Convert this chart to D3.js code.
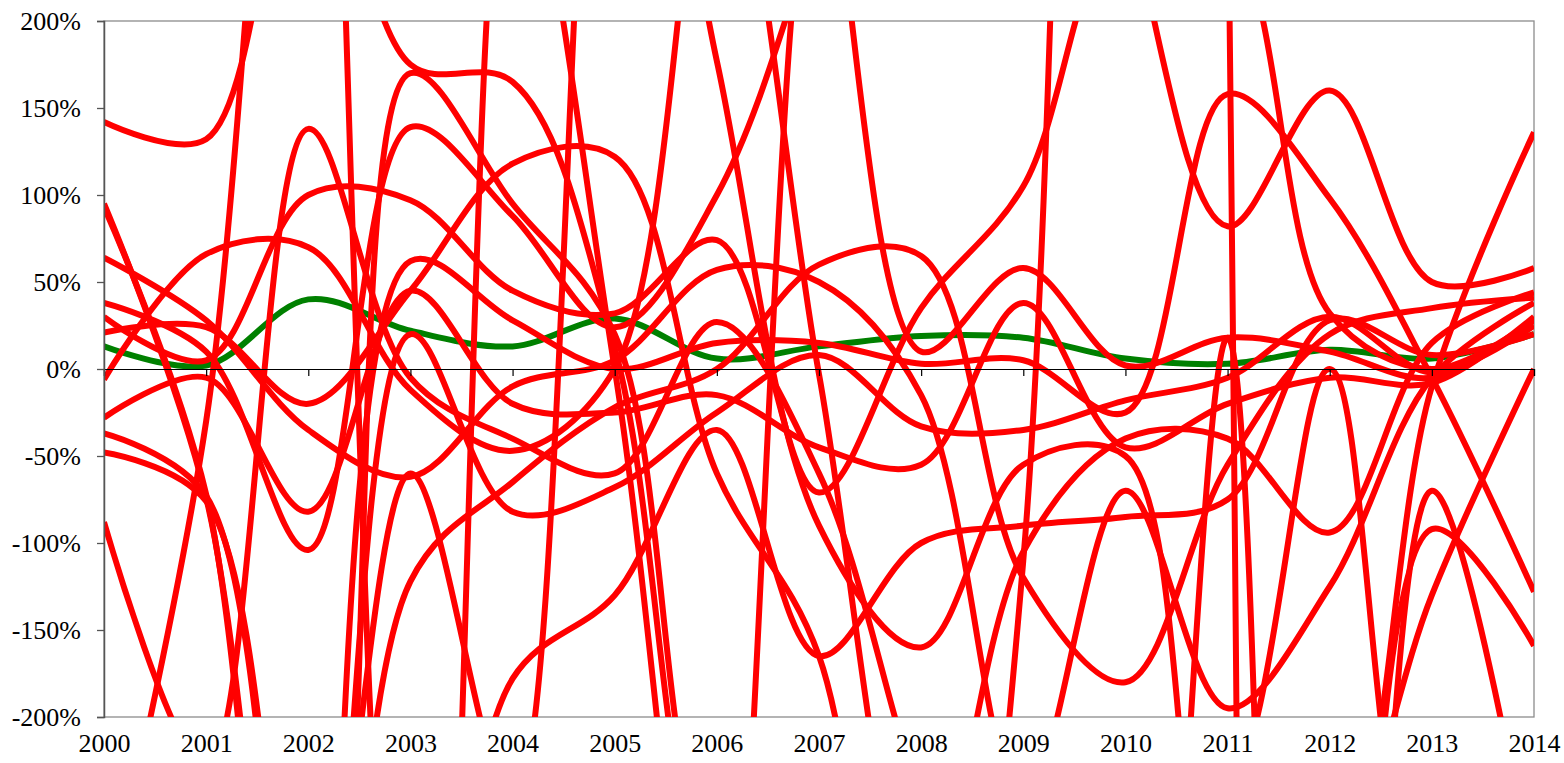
<!DOCTYPE html>
<html><head><meta charset="utf-8">
<script src="https://cdn.jsdelivr.net/npm/d3@7"></script>
<style>body{margin:0;background:#fff}text{font-family:"Liberation Serif","Times New Roman",serif}</style>
</head><body>
<svg id="c" width="1564" height="763"></svg>
<script>
const years = [2000,2001,2002,2003,2004,2005,2006,2007,2008,2009,2010,2011,2012,2013,2014];
const yTickValues = [-200,-150,-100,-50,0,50,100,150,200];

// green series (percent)
const greenSeries = [13, 2, 40, 22, 13, 29, 6, 13, 19, 18, 6, 3, 11, 6, 20];

// red series (percent)
const s01 = [142, 132, 330, 175, 165, 12, -330, -400, -300, -250, -600, 18, -2500, -92, -159];
const s02 = [-320, -30, 560, -420, -178, -130, -35, -165, -100, -90, -85, -75, 28, 8, 20];
const s03 = [95, -74, -480, 62, 28, 0, 15, 15, 3, 5, -25, 158, 98, -5, -128];
const s04 = [93, -72, -560, -122, -65, -22, 0, 60, 65, -120, -180, -55, 20, 35, 41];
const s05 = [64, 28, -35, -62, -10, 5, 57, 50, -15, -250, -70, -195, -125, -5, 38];
const s06 = [38, 10, -104, 139, 88, 24, 100, 260, 450, 500, 270, 82, 160, 50, 58];
const s07 = [30, 5, 100, 97, 45, 32, 74, -71, 35, 105, 260, 250, 32, 0, 28];
const s08 = [21, 24, -20, 45, 118, 122, -60, -165, -500, -110, 3000, 300, -20000, -70, -300];
const s09 = [-6, 66, 70, -12, -47, 0, 330, -3, -320, -105, -40, -40, -94, 15, 44];
const s10 = [-28, -5, -82, 45, -20, -25, -15, -45, -55, 38, -45, -20, -5, -8, 30];
const s11 = [-37, -73, -450, 20, -82, -68, -25, 8, -33, -35, -18, -5, 30, -2, 25];
const s12 = [-48, -76, -380, -60, -250, 450, 177, -90, -160, -55, -50, -350, -300, -130, 0];
const s13 = [-88, -230, 138, -5, -40, -60, 27, -60, -250, -400, -300, -250, -300, -10, 136];
const s14 = [-500, -450, -400, -600, 320, 0, -420, 300, 10, 58, 2, 18, 10, -5, 28];
const s15 = [-400, -350, -400, 170, 95, 20, -300, -350, -300, -350, -300, -250, 0, -350, -400];
const redSeries = [s01,s02,s03,s04,s05,s06,s07,s08,s09,s10,s11,s12,s13,s14,s15];

const plot = {left:104, right:1534, top:21, bottom:717};
const svg = d3.select("#c");
const x = d3.scaleLinear().domain([2000,2014]).range([plot.left, plot.right]);
const y = d3.scaleLinear().domain([-200,200]).range([plot.bottom, plot.top]);

svg.append("defs").append("clipPath").attr("id","clip")
  .append("rect").attr("x",plot.left).attr("y",plot.top)
  .attr("width",plot.right-plot.left).attr("height",plot.bottom-plot.top);

svg.append("rect").attr("x",plot.left).attr("y",plot.top)
  .attr("width",plot.right-plot.left).attr("height",plot.bottom-plot.top)
  .attr("fill","none").attr("stroke","#8c8c8c").attr("stroke-width",1.3);

const line = d3.line().x((d,i)=>x(years[i])).y(d=>y(d)).curve(d3.curveCatmullRom.alpha(0.5));

const g = svg.append("g").attr("clip-path","url(#clip)");
g.append("path").datum(greenSeries).attr("d",line)
  .attr("fill","none").attr("stroke","#008000").attr("stroke-width",6).attr("stroke-linejoin","round");
g.selectAll("path.red").data(redSeries).join("path").attr("class","red").attr("d",line)
  .attr("fill","none").attr("stroke","#ff0000").attr("stroke-width",6).attr("stroke-linejoin","round");

const xAxisZero = d3.axisBottom(x).tickValues(years).tickSize(7).tickFormat("");
const gz = svg.append("g").attr("transform",`translate(0,${y(0)})`).call(xAxisZero);
gz.select(".domain").attr("stroke","#000").attr("stroke-width",1.2);
gz.selectAll(".tick line").attr("stroke","#000").attr("stroke-width",1.2);

const xAxisLab = d3.axisBottom(x).tickValues(years).tickSize(0).tickPadding(17).tickFormat(d3.format("d"));
const gl = svg.append("g").attr("transform",`translate(0,${plot.bottom})`).call(xAxisLab);
gl.select(".domain").remove();
gl.selectAll("text").attr("font-size",26).attr("fill","#000").attr("font-family","Liberation Serif, Times New Roman, serif");

const yAxis = d3.axisLeft(y).tickValues(yTickValues).tickSize(7).tickPadding(16).tickFormat(d=>d+"%");
const gy = svg.append("g").attr("transform",`translate(${plot.left},0)`).call(yAxis);
gy.select(".domain").attr("stroke","#555").attr("stroke-width",1.5);
gy.selectAll(".tick line").attr("stroke","#555").attr("stroke-width",1.3);
gy.selectAll("text").attr("font-size",26).attr("fill","#000").attr("font-family","Liberation Serif, Times New Roman, serif");
</script>
</body></html>
